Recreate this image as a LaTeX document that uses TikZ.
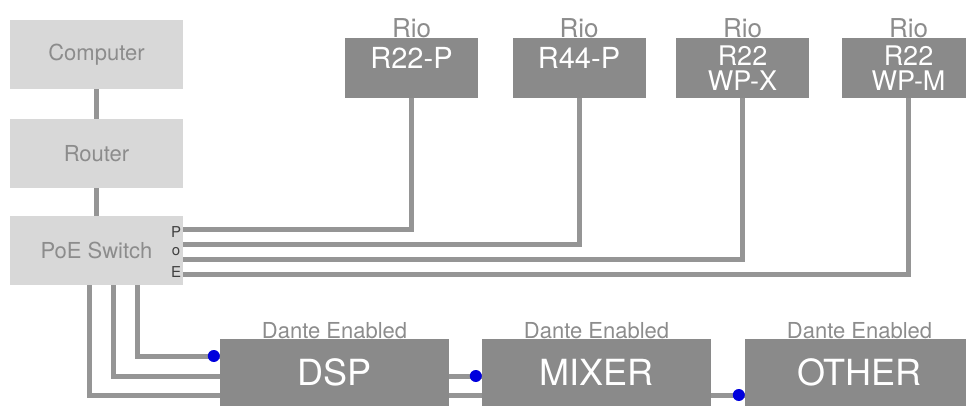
\documentclass[tikz,border=0pt]{standalone}
\usepackage{fontspec}
\setmainfont{TeX Gyre Heros}
\usepackage{xcolor}
\definecolor{boxlight}{HTML}{D8D8D8}
\definecolor{txtlight}{HTML}{8C8C8C}
\definecolor{boxdark}{HTML}{8A8A8A}
\definecolor{wiregray}{HTML}{959595}
\definecolor{dotblue}{HTML}{0000DD}

\tikzset{
	lightbox/.style={fill=boxlight, text=txtlight, minimum width=173, minimum height=69, inner sep=0,
		font=\fontsize{22}{26}\selectfont},
	riobox/.style={fill=boxdark, text=white, minimum width=133, minimum height=60, inner sep=0,
		align=center, font=\fontsize{27}{25}\selectfont, label distance=5,
		label={[toplabel, font=\fontsize{26}{30}\selectfont]above:Rio}},
	riosingle/.style={riobox, font=\fontsize{29}{30}\selectfont, text depth=21},
	dantebox/.style={fill=boxdark, text=white, minimum width=229, minimum height=67, inner sep=0,
		font=\fontsize{36}{40}\selectfont, label distance=3,
		label={[toplabel, font=\fontsize{22}{26}\selectfont]above:Dante Enabled}},
	toplabel/.style={text=txtlight, inner sep=0},
	portlbl/.style={text=black!75, inner sep=0, font=\fontsize{15}{17}\selectfont},
	wire/.style={draw=wiregray, line width=5},
}

\begin{document}
\begin{tikzpicture}[x=1pt, y=-1pt]
	\useasboundingbox (0,0) rectangle (966,406);

	\node[lightbox] (comp) at (96.5,54.5) {Computer};
	\node[lightbox] (router) at (96.5,153.5) {Router};
	\node[lightbox] (sw) at (96.5,250.5) {PoE Switch};

	\foreach \l/\y in {P/232, o/252, E/272}
	{
		\node[portlbl] (port\l) at (176,\y) {\l};
	}

	\node[riosingle] (r22p) at (411.5,68) {R22-P};
	\node[riosingle] (r44p) at (579,68) {R44-P};
	\node[riobox] (r22x) at (742.5,68) {R22\\WP-X};
	\node[riobox] (r22m) at (908.5,68) {R22\\WP-M};

	\node[dantebox] (dsp) at (334.5,372.5) {DSP};
	\node[dantebox] (mixer) at (596.5,372.5) {MIXER};
	\node[dantebox] (other) at (859.5,372.5) {OTHER};

	\begin{scope}[wire]
		\draw (comp) -- (router);
		\draw (router) -- (sw);
		\foreach \d/\r in {21/r22p, 6/r44p, -9/r22x, -24/r22m}
		{
			\draw ([yshift=\d]sw.east) -| (\r.south);
		}
		\foreach \dx/\dy in {-7.5/-22.5, 16.5/-3.5, 40.5/16.5}
		{
			\draw ([xshift=\dx]sw.south) |- ([yshift=\dy]dsp.west);
		}
		\draw ([yshift=-3.5]dsp.east) -- ([yshift=-3.5]mixer.west);
		\draw ([yshift=-22.5]dsp.east) -- ([yshift=-22.5]mixer.west);
		\draw ([yshift=-22.5]mixer.east) -- ([yshift=-22.5]other.west);
	\end{scope}

	% Dante input points
	\fill[dotblue] ([xshift=-6, yshift=16.5]dsp.west) circle (6pt);
	\fill[dotblue] ([xshift=-6, yshift=-3.5]mixer.west) circle (6pt);
	\fill[dotblue] ([xshift=-6, yshift=-22.5]other.west) circle (6pt);
\end{tikzpicture}
\end{document}
